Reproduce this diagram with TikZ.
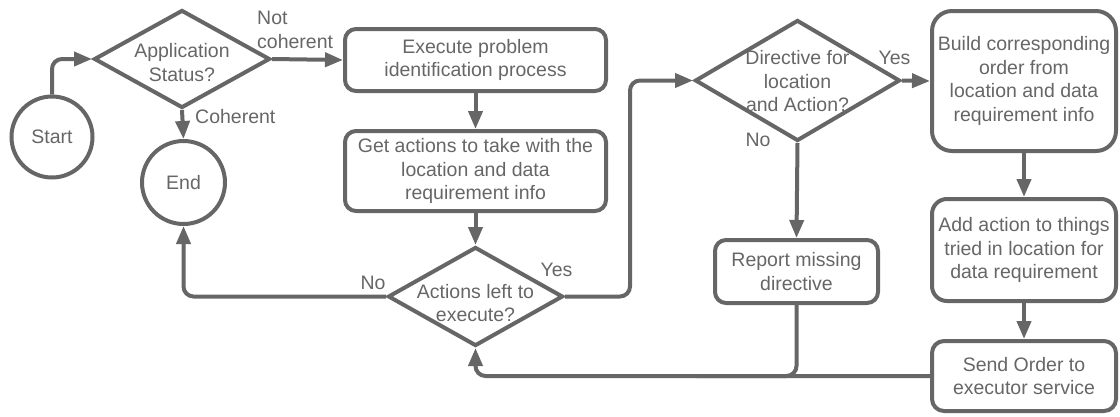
\documentclass[tikz,border=0pt]{standalone}
\usepackage{fontspec}
\setmainfont{Liberation Sans}
\usetikzlibrary{shapes.geometric,arrows.meta}
\definecolor{fg}{HTML}{666666}
\begin{document}
\begin{tikzpicture}[x=1pt,y=-1pt,
  txt/.style={text=fg, font=\fontsize{19.5}{23.5}\selectfont},
  box/.style={txt, draw=fg, line width=4pt, rounded corners=11pt, align=center, inner sep=0pt},
  dia/.style={draw=fg, line width=4pt, diamond, inner sep=0pt},
  circ/.style={txt, draw=fg, line width=4pt, circle, inner sep=0pt},
  lbl/.style={txt, inner sep=0pt, align=center},
  conn/.style={draw=fg, line width=4pt, rounded corners=10pt},
  arr/.style={conn, -{Triangle[length=18pt,width=14pt]}}
]
\useasboundingbox (0,0) rectangle (1120,416);

% terminals
\node[circ, minimum size=81pt] (start) at (52,137) {Start};
\node[circ, minimum size=83pt] (end) at (183.5,182.5) {End};

% decisions
\node[dia, minimum width=176pt, minimum height=98pt,
  label={[lbl, yshift=-3.5pt]center:Application\\Status?}] (app) at (182,59) {};
\node[dia, minimum width=175pt, minimum height=99pt,
  label={[lbl, yshift=-6.5pt]center:Actions left to\\execute?}] (act) at (475.5,296.5) {};
\node[dia, minimum width=205pt, minimum height=121pt,
  label={[lbl, yshift=-1pt]center:Directive for\\location\\and Action?}] (dir) at (797.5,80.5) {};

% process boxes
\node[box, minimum width=261pt, minimum height=62pt] (exe) at (475.5,60) {Execute problem\\identification process};
\node[box, minimum width=261pt, minimum height=80pt] (get) at (475.5,171) {Get actions to take with the\\location and data\\requirement info};
\node[box, rounded corners=20pt, minimum width=184pt, minimum height=140pt] (build) at (1024,81) {Build corresponding\\order from\\location and data\\requirement info};
\node[box, rounded corners=15pt, minimum width=184pt, minimum height=102pt] (add) at (1024,250) {Add action to things\\tried in location for\\data requirement};
\node[box, rounded corners=12pt, minimum width=184pt, minimum height=70pt] (send) at (1024,376) {Send Order to\\executor service};
\node[box, minimum width=163pt, minimum height=63pt] (rep) at (796.5,271.5) {Report missing\\directive};

% connectors
\draw[arr] (start.north) |- (app.west);
\draw[arr] (app.east) -- (exe.west);
\draw[arr] (app.south) -- (end.north);
\draw[arr] (exe.south) -- (get.north);
\draw[arr] (get.south) -- (act.north);
\draw[arr] (act.west) -| (end.south);
\draw[arr] (act.east) -- ++(65,0) |- (dir.west);
\draw[arr] (dir.east) -- (build.west);
\draw[arr] (dir.south) -- (rep.north);
\draw[arr] (build.south) -- (add.north);
\draw[arr] (add.south) -- (send.north);
\draw[arr] (send.west) -| (act.south);
\coordinate (join) at ([xshift=-100pt]rep.south |- send.west);
\draw[conn] (rep.south) |- (join);

% branch labels
\node[lbl, anchor=west, align=left] (nc) at (257,30) {Not\\coherent};
\node[lbl, anchor=west] (coh) at (195,117) {Coherent};
\node[lbl, anchor=center] (no1) at (373,283) {No};
\node[lbl, anchor=center] (yes1) at (556.5,270) {Yes};
\node[lbl, anchor=center] (yes2) at (894.5,58) {Yes};
\node[lbl, anchor=center] (no2) at (758,140) {No};
\end{tikzpicture}
\end{document}
